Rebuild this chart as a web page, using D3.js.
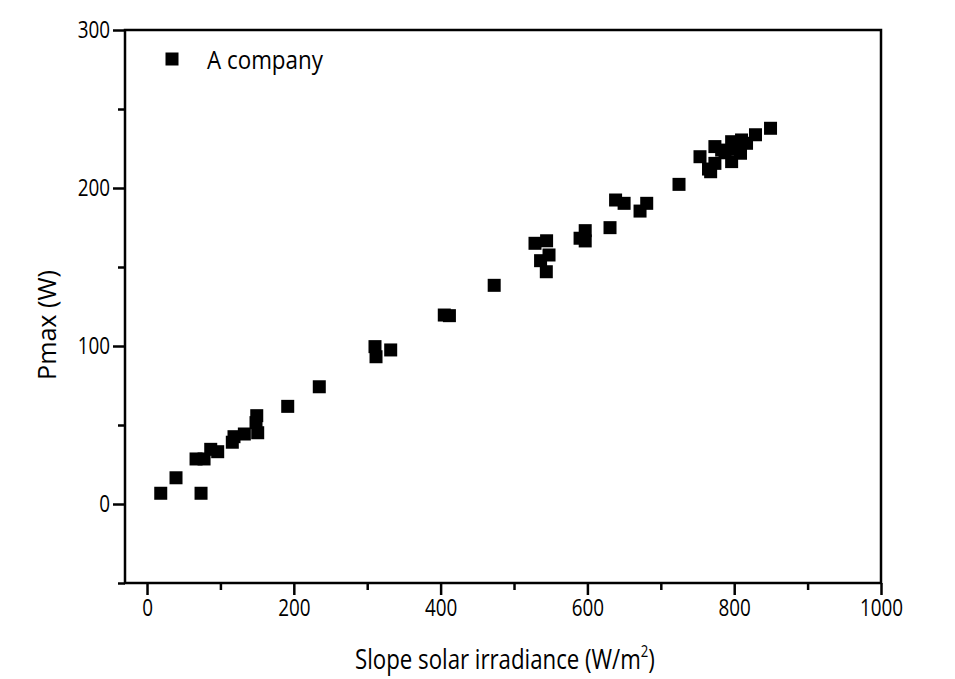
<!DOCTYPE html>
<html>
<head>
<meta charset="utf-8">
<script src="https://cdn.jsdelivr.net/npm/d3@7"></script>
<style>
  html, body { margin: 0; padding: 0; background: #fff; }
  svg { display: block; }
  text { font-family: "Open Sans", "Liberation Sans", sans-serif; fill: #000; }
</style>
</head>
<body>
<svg id="chart" width="955" height="679"></svg>
<script>
// Data
const seriesName = "A company";
const irradiance = [18.7, 39.5, 73.6, 66.8, 77.7, 86.8, 96.3, 116.2, 118.5, 132.6, 149.5, 148.5, 150.8,
  191.7, 234.7, 310.6, 312, 332, 405, 412, 473, 528.6, 544.4, 547.7, 536.2, 544,
  590, 597, 597, 630.8, 638.4, 650, 671.7, 680.8, 724.8, 753.4, 767.9, 773.7, 773.7,
  782.9, 787.5, 796.5, 796.5, 810, 808.6, 816.8, 829, 849.5, 765, 800];
const pmax = [6.8, 16.6, 6.8, 28.5, 28.5, 34.6, 33.1, 39.1, 42.6, 44.3, 55.9, 51.5, 45.1,
  61.8, 74.2, 99.6, 93.2, 97.5, 119.6, 119.2, 138.4, 165, 166.6, 157.6, 154, 147,
  168.2, 173, 166.5, 174.9, 192.4, 190.3, 185.4, 190.3, 202.3, 219.8, 210.3, 215.6, 226.2,
  224, 222.3, 216.7, 229.3, 230.4, 222, 228.3, 233.7, 237.8, 212, 225];
const xMajorTicks = [0, 200, 400, 600, 800, 1000];
const xMinorTicks = [100, 300, 500, 700, 900];
const yMajorTicks = [0, 100, 200, 300];
const yMinorTicks = [-50, 50, 150, 250];
const xTitle = "Slope solar irradiance (W/m";
const xTitleSup = "2";
const yTitle = "Pmax (W)";

(function () {
const svg = d3.select("#chart");
const pL = 125, pR = 881, pT = 30, pB = 583;
const x = d3.scaleLinear().domain([-30, 1000]).range([pL, pR]);
const y = d3.scaleLinear().domain([-50, 300]).range([pB, pT]);
const sx = 0.82; // horizontal condensing to mimic a narrow font

const xAxis = d3.axisBottom(x).tickValues(xMajorTicks).tickSize(12).tickPadding(5).tickFormat(d3.format("d"));
const xAxisMinor = d3.axisBottom(x).tickValues(xMinorTicks).tickSize(7).tickFormat("");
const yAxis = d3.axisLeft(y).tickValues(yMajorTicks).tickSize(12).tickPadding(3).tickFormat(d3.format("d"));
const yAxisMinor = d3.axisLeft(y).tickValues(yMinorTicks).tickSize(7).tickFormat("");

function style(g) {
  g.select(".domain").remove();
  g.selectAll(".tick line").attr("stroke", "#000").attr("stroke-width", 2.5);
  g.selectAll(".tick text").attr("font-size", 23).attr("font-family", "'Open Sans', sans-serif");
}
svg.append("g").attr("transform", `translate(0,${pB})`).call(xAxis).call(style)
  .selectAll(".tick text").attr("transform", `scale(${sx},1)`);
svg.append("g").attr("transform", `translate(0,${pB})`).call(xAxisMinor).call(style);
svg.append("g").attr("transform", `translate(${pL},0)`).call(yAxis).call(style)
  .selectAll(".tick text").attr("x", -15 / sx).attr("transform", `scale(${sx},1)`);
svg.append("g").attr("transform", `translate(${pL},0)`).call(yAxisMinor).call(style);

svg.append("rect").attr("x", pL).attr("y", pT).attr("width", pR - pL).attr("height", pB - pT)
  .attr("fill", "none").attr("stroke", "#000").attr("stroke-width", 2.5);

const size = 13;
const pts = irradiance.map((v, i) => ({ x: v, y: pmax[i] }));
svg.append("g").selectAll("rect").data(pts).join("rect")
  .attr("x", d => x(d.x) - size / 2).attr("y", d => y(d.y) - size / 2)
  .attr("width", size).attr("height", size).attr("fill", "#000");

// fit text horizontally to a target width, anchored at a given point
function fit(textSel, ax, ay, targetW, anchor, rotate) {
  const w = textSel.node().getComputedTextLength();
  const s = targetW / w;
  textSel.attr("x", 0).attr("y", 0).attr("text-anchor", anchor)
    .attr("transform", `translate(${ax},${ay})${rotate ? " rotate(" + rotate + ")" : ""} scale(${s},1)`);
}

svg.append("rect").attr("x", 165.5).attr("y", 52.5).attr("width", 13).attr("height", 13).attr("fill", "#000");
const lg = svg.append("text").attr("font-size", 25).text(seriesName);
fit(lg, 207, 69, 116, "start");

const xt = svg.append("text").attr("font-size", 27);
xt.append("tspan").text(xTitle);
xt.append("tspan").attr("font-size", 16).attr("dy", -12).text(xTitleSup);
xt.append("tspan").attr("dy", 12).text(")");
fit(xt, 505, 669, 300, "middle");

const yt = svg.append("text").attr("font-size", 26).text(yTitle);
fit(yt, 56, 325, 110, "middle", -90);
})();
</script>
</body>
</html>
